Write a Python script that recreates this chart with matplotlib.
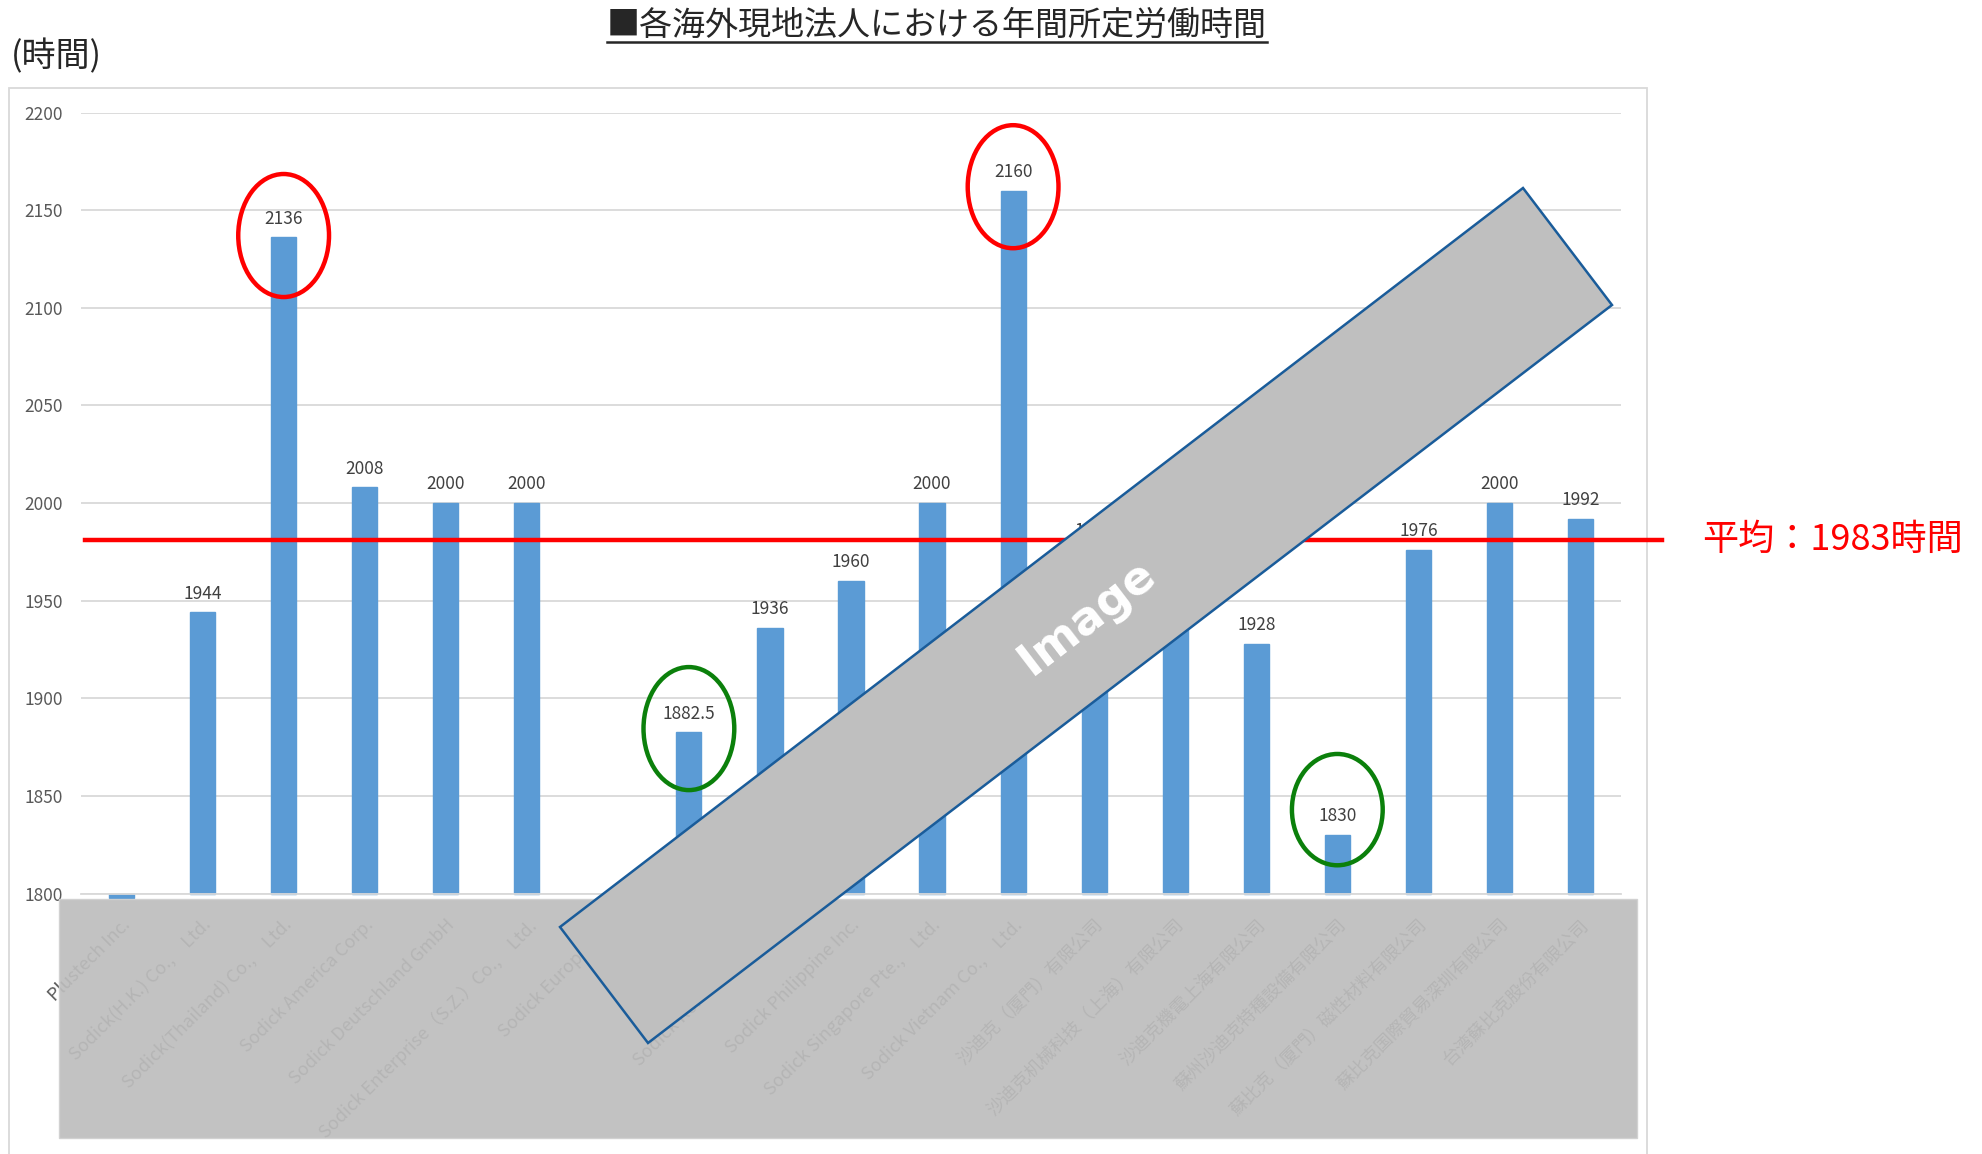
import numpy as np
import matplotlib
matplotlib.use("Agg")
import matplotlib.pyplot as plt
from matplotlib.patches import Rectangle, Polygon, Ellipse
from matplotlib.lines import Line2D
from matplotlib.transforms import ScaledTranslation

plt.rcParams["font.family"] = ["Noto Sans CJK JP", "DejaVu Sans"]

# data
companies = [
    "Plustech Inc.",
    "Sodick(H.K.) Co.,　Ltd.",
    "Sodick(Thailand) Co.,　Ltd.",
    "Sodick America Corp.",
    "Sodick Deutschland GmbH",
    "Sodick Enterprise（S.Z.）Co.,　Ltd.",
    "Sodick Europe Ltd.",
    "Sodick Inc.",
    "Sodick Korea Co.,　Ltd.",
    "Sodick Philippine Inc.",
    "Sodick Singapore Pte.,　Ltd.",
    "Sodick Vietnam Co.,　Ltd.",
    "沙迪克（厦門）有限公司",
    "沙迪克机械科技（上海）有限公司",
    "沙迪克機電上海有限公司",
    "蘇州沙迪克特種設備有限公司",
    "蘇比克（厦門）磁性材料有限公司",
    "蘇比克国際貿易深圳有限公司",
    "台湾蘇比克股份有限公司",
]
hours = [1798, 1944, 2136, 2008, 2000, 2000, np.nan, 1882.5, 1936, 1960,
         2000, 2160, 1976, 1984, 1928, 1830, 1976, 2000, 1992]
show_label = [False] + [True] * 18
avg_hours = 1983
y_ticks = list(range(1800, 2201, 50))

# highlighted bars: (index, colour, centre offset above value, ellipse height)
highlights = [(2, "#ff0000", 1, 63), (11, "#ff0000", 2, 63),
              (7, "#0b800b", 2, 63), (15, "#0b800b", 13, 57)]

W, H = 1982, 1154
fig = plt.figure(figsize=(W / 100, H / 100), dpi=100)


def fx(x):
    return x / W


def fy(y):
    return 1 - y / H


# outer chart frame
fig.add_artist(Rectangle((fx(9), fy(1160)), fx(1647) - fx(9), fy(88) - fy(1160),
                         transform=fig.transFigure, fill=False,
                         edgecolor="#d9d9d9", lw=1.3, zorder=0))

ax = fig.add_axes([fx(81), fy(893.6), fx(1621) - fx(81), fy(112.5) - fy(893.6)])
ax.set_facecolor("none")

x = np.arange(len(companies))
vals = np.array(hours, dtype=float)
bars = ax.bar(x, vals - 1800, bottom=1800, width=0.31, color="#5b9bd5",
              edgecolor="#5b9bd5", linewidth=1.0, zorder=2, clip_on=False)

for i, v in enumerate(vals):
    if np.isnan(v) or not show_label[i]:
        continue
    txt = f"{v:.1f}" if v % 1 else f"{int(v)}"
    ax.annotate(txt, xy=(i, v), xytext=(0, 7), textcoords="offset points",
                ha="center", va="bottom", fontsize=12.5, color="#404040")

ax.set_xlim(-0.5, len(companies) - 0.5)
ax.set_ylim(1800, 2200)
ax.set_yticks(y_ticks)
ax.yaxis.grid(True, color="#d9d9d9", lw=1.3)
ax.set_axisbelow(True)
for s in ["top", "right", "left"]:
    ax.spines[s].set_visible(False)
ax.spines["bottom"].set_color("#d9d9d9")
ax.spines["bottom"].set_linewidth(1.3)
ax.tick_params(axis="both", length=0, labelsize=12.5, labelcolor="#595959")
ax.tick_params(axis="y", pad=13)
ax.tick_params(axis="x", pad=16)
ax.set_xticks(x)
ax.set_xticklabels(companies, rotation=45, ha="right", rotation_mode="anchor", fontsize=13)

# average line (hand-drawn in the original, sits a few px low)
shift = ax.get_yaxis_transform() + ScaledTranslation(0, -3.5 / 100, fig.dpi_scale_trans)
ax.plot([(85 - 81) / 1540, (1662 - 81) / 1540], [avg_hours, avg_hours],
        transform=shift, color="#ff0000", lw=3.2, clip_on=False, zorder=3)
fig.text(fx(1702), fy(540), f"平均：{avg_hours}時間", color="#ff0000",
         fontsize=26, ha="left", va="center")

# ellipses round the extreme values
for idx, col, dy, h in highlights:
    ax.add_patch(Ellipse((idx, vals[idx] + dy), 1.12, h, fill=False,
                         edgecolor=col, lw=3.2, zorder=4, clip_on=False))

# title and unit
title = fig.text(fx(937), fy(25), "■各海外現地法人における年間所定労働時間",
                 fontsize=23.8, color="#262626", ha="center", va="center")
fig.text(fx(11), fy(57), "(時間)", fontsize=24.5, color="#262626",
         ha="left", va="center")

# grey masks
fig.add_artist(Rectangle((fx(59), fy(1138)), fx(1637) - fx(59), fy(899) - fy(1138),
                         transform=fig.transFigure, facecolor="#bdbdbd",
                         edgecolor="#d0d0d0", alpha=0.92, zorder=5))
corners = [(560, 927), (1523, 188), (1612, 305), (648, 1043)]
fig.add_artist(Polygon([(fx(a), fy(b)) for a, b in corners], closed=True,
                       transform=fig.transFigure, facecolor="#bfbfbf",
                       edgecolor="#1a5c9a", lw=1.8, zorder=6))
fig.text(fx(1087), fy(617), "Image", rotation=37.5, fontsize=33,
         fontweight="bold", color="white", family="DejaVu Sans",
         ha="center", va="center", rotation_mode="anchor", zorder=7)

# underline for the title
fig.canvas.draw()
bb = title.get_window_extent(fig.canvas.get_renderer())
fig.add_artist(Line2D([bb.x0 / W, bb.x1 / W], [(bb.y0 + 1) / H] * 2,
                      transform=fig.transFigure, color="#262626", lw=1.8))

fig.savefig("out.png", dpi=100)
plt.close(fig)
